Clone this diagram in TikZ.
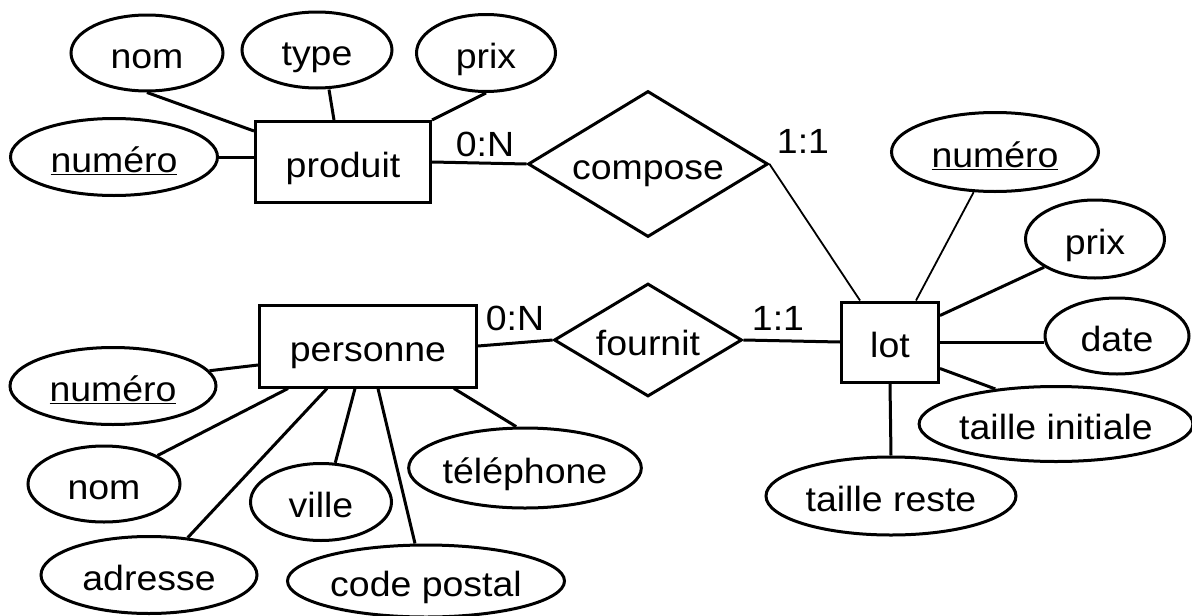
\documentclass[tikz,border=0pt]{standalone}
\usepackage{fontspec}
\setmainfont[FakeStretch=1.07]{Liberation Sans}
\usetikzlibrary{shapes.geometric}
\begin{document}
\begin{tikzpicture}[x=1pt,y=-1pt,
  every node/.style={font=\fontsize{35}{38}\selectfont, inner sep=0pt,
    text height=31pt, text depth=0pt},
  attr/.style={ellipse, draw, line width=3pt},
  entity/.style={rectangle, draw, line width=3pt},
  rel/.style={diamond, draw, line width=3pt, aspect=1.6},
  link/.style={line width=3pt},
  thinlink/.style={line width=1.8pt},
  card/.style={}
]
\useasboundingbox (0,0) rectangle (1192,616);

% produit and its attributes
\node[entity, minimum width=175pt, minimum height=81pt] (produit) at (343,162) {produit};
\node[attr, minimum width=152pt, minimum height=76pt] (pnom) at (147,53) {nom};
\node[attr, minimum width=150pt, minimum height=76pt] (ptype) at (317,50) {type};
\node[attr, minimum width=139pt, minimum height=77pt] (pprix) at (486,53) {prix};
\node[attr, minimum width=207pt, minimum height=77pt] (pnum) at (114,157) {\underline{numéro}};

% compose relationship
\node[rel, minimum width=240pt, minimum height=146pt] (compose) at (648,164) {compose};
\node[card] (c1) at (485,141) {0:N};
\node[card] (c2) at (803,138) {1:1};

% lot and its attributes
\node[entity, minimum width=97pt, minimum height=80pt] (lot) at (890,342) {lot};
\node[attr, minimum width=207pt, minimum height=79pt] (lnum) at (995,152) {\underline{numéro}};
\node[attr, minimum width=139pt, minimum height=78pt] (lprix) at (1095,239) {prix};
\node[attr, minimum width=144pt, minimum height=76pt] (ldate) at (1117,336) {date};
\node[attr, minimum width=264pt, minimum height=75pt] (linit) at (1056,424) {taille initiale};
\node[attr, minimum width=250pt, minimum height=78pt] (lreste) at (891,496) {taille reste};

% fournit relationship
\node[rel, minimum width=188pt, minimum height=113pt] (fournit) at (648,340) {fournit};
\node[card] (c3) at (515,315) {0:N};
\node[card] (c4) at (778,315) {1:1};

% personne and its attributes
\node[entity, minimum width=217pt, minimum height=82pt] (personne) at (368,346) {personne};
\node[attr, minimum width=206pt, minimum height=77pt] (rnum) at (113,386) {\underline{numéro}};
\node[attr, minimum width=152pt, minimum height=76pt] (rnom) at (104,484) {nom};
\node[attr, minimum width=216pt, minimum height=77pt] (radr) at (149,575) {adresse};
\node[attr, minimum width=141pt, minimum height=77pt] (rville) at (321,502) {ville};
\node[attr, minimum width=277pt, minimum height=72pt] (rcp) at (426,581) {code postal};
\node[attr, minimum width=230pt, minimum height=80pt] (rtel) at (525,468) {téléphone};

% connectors of produit
\draw[link] (pnum.east) -- (pnum.east -| produit.west);
\draw[link] (pnom.south) -- ([yshift=-11pt]produit.north west);
\draw[link] ([xshift=12pt]ptype.south) -- ([xshift=-9pt]produit.north);
\draw[link] (pprix.south) -- (produit.north east);
\draw[link] (produit.east) -- (compose.west);

% connectors of lot
\draw[thinlink] (compose.east) -- ([xshift=20pt]lot.north west);
\draw[thinlink] (lnum.-118) -- ([xshift=-24pt]lot.north east);
\draw[link] (lprix.-151) -- ([yshift=-15pt]lot.north east);
\draw[link] (lot.east) -- (lot.east -| ldate.west);
\draw[link] ([yshift=15pt]lot.south east) -- (linit.150);
\draw[link] (lot.south) -- (lreste.north);
\draw[link] (fournit.east) -- (lot.west);

% connectors of personne
\draw[link] (personne.east) -- (fournit.west);
\draw[link] (rnum.9) -- ([yshift=-19pt]personne.west);
\draw[link] (rnom.28) -- ([xshift=30pt]personne.south west);
\draw[link] (radr.44) -- ([xshift=69pt]personne.south west);
\draw[link] (rville.70) -- ([xshift=97pt]personne.south west);
\draw[link] ([xshift=-11pt]rcp.north) -- ([xshift=120pt]personne.south west);
\draw[link] (rtel.102) -- ([xshift=-24pt]personne.south east);
\end{tikzpicture}
\end{document}
